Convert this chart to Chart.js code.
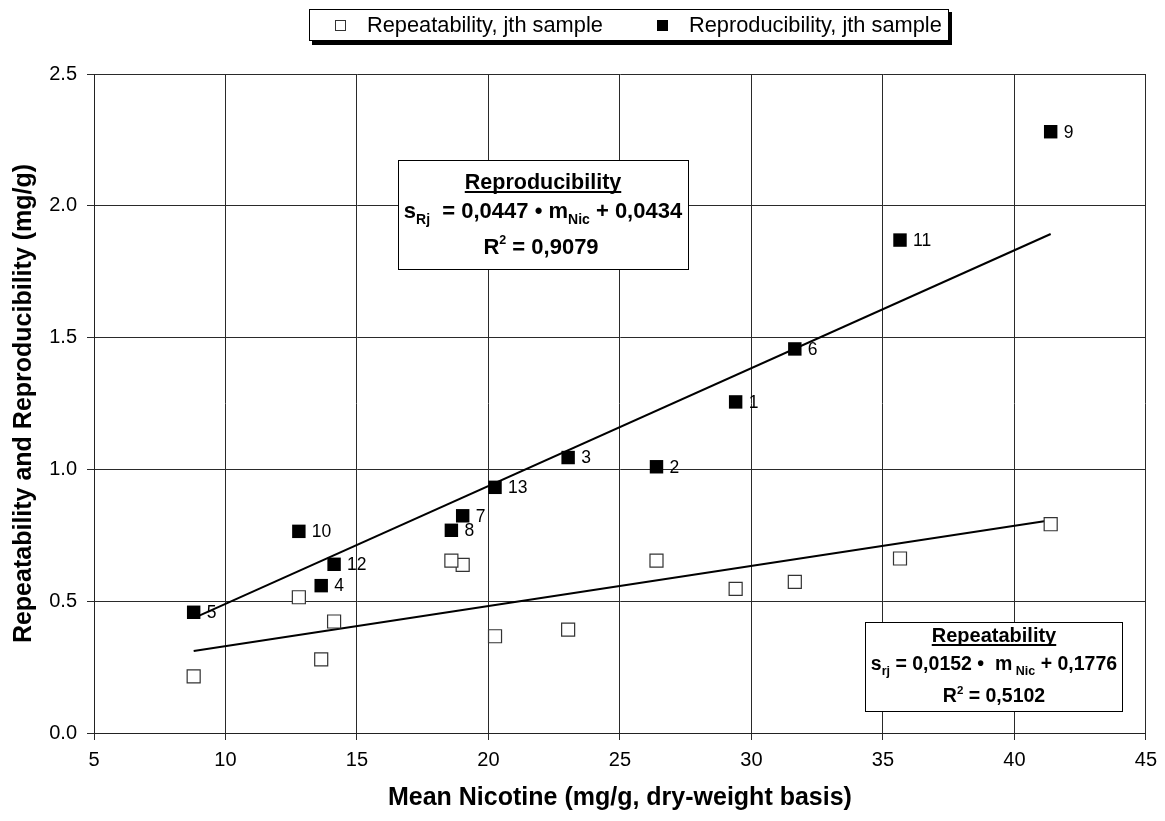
<!DOCTYPE html>
<html>
<head>
<meta charset="utf-8">
<script src="https://cdn.jsdelivr.net/npm/chart.js@4.4.0/dist/chart.umd.min.js"></script>
<style>
  html, body { margin: 0; padding: 0; background: #fff; }
  #wrap { width: 1165px; height: 821px; }
</style>
</head>
<body>
<div id="wrap"><canvas id="chart" width="1165" height="821"></canvas></div>
<script>
const FONT = "'Liberation Sans', Arial, sans-serif";

// samples, in order 1..13
const sampleIds = ['1', '2', '3', '4', '5', '6', '7', '8', '9', '10', '11', '12', '13'];
const meanNicotine = [29.40, 26.39, 23.03, 13.64, 8.79, 31.65, 19.02, 18.59, 41.38, 12.79, 35.65, 14.13, 20.25];
const repeatability = [0.547, 0.654, 0.392, 0.279, 0.215, 0.573, 0.638, 0.654, 0.792, 0.515, 0.662, 0.423, 0.367];
const reproducibility = [1.256, 1.010, 1.045, 0.559, 0.458, 1.457, 0.824, 0.769, 2.281, 0.765, 1.870, 0.640, 0.932];

// fitted lines, end points
const fitX = [8.79, 41.38];
const reproFitY = [0.436, 1.893];
const repeatFitY = [0.311, 0.807];

const xTickValues = [5, 10, 15, 20, 25, 30, 35, 40, 45];
const yTickValues = [0, 0.5, 1.0, 1.5, 2.0, 2.5];
const yTickLabels = ['0.0', '0.5', '1.0', '1.5', '2.0', '2.5'];

const legendLabels = ['Repeatability, jth sample', 'Reproducibility, jth sample'];

function toPoints(xs, ys) {
    return xs.map((x, i) => ({ x: x, y: ys[i] }));
}

// draws text made of pieces (sub/superscripts), centred on cx
function richLine(ctx, parts, cx, y) {
    let total = 0;
    parts.forEach(p => {
        ctx.font = 'bold ' + p.size + 'px ' + FONT;
        p.w = ctx.measureText(p.t).width;
        total += p.w;
    });
    let x = cx - total / 2;
    const x0 = x;
    parts.forEach(p => {
        ctx.font = 'bold ' + p.size + 'px ' + FONT;
        ctx.fillText(p.t, x, y + (p.dy || 0));
        x += p.w;
    });
    return { x0: x0, w: total };
}

const pointLabels = {
    id: 'pointLabels',
    afterDatasetsDraw(chart) {
        const ctx = chart.ctx;
        const meta = chart.getDatasetMeta(1);
        ctx.save();
        ctx.fillStyle = '#000';
        ctx.font = '17.5px ' + FONT;
        ctx.textAlign = 'left';
        ctx.textBaseline = 'middle';
        meta.data.forEach((pt, i) => {
            ctx.fillText(sampleIds[i], pt.x + 13, pt.y + 1);
        });
        ctx.restore();
    }
};

const boxes = {
    id: 'boxes',
    afterDraw(chart) {
        const ctx = chart.ctx;
        ctx.save();
        ctx.textAlign = 'left';
        ctx.textBaseline = 'alphabetic';

        // reproducibility box
        ctx.fillStyle = '#fff';
        ctx.fillRect(398, 160, 290, 109);
        ctx.strokeStyle = '#000';
        ctx.lineWidth = 1;
        ctx.strokeRect(398.5, 160.5, 290, 109);
        ctx.fillStyle = '#000';
        let t = richLine(ctx, [{ t: 'Reproducibility', size: 21.5 }], 543, 189);
        ctx.fillRect(t.x0, 191, t.w, 2);
        richLine(ctx, [
            { t: 's', size: 22 },
            { t: 'Rj', size: 14 },
            { t: '  = 0,0447 \u2022 m', size: 22 },
            { t: 'Nic', size: 14 },
            { t: ' + 0,0434', size: 22 }
        ].map(p => (p.size === 14 ? Object.assign(p, { dy: 6 }) : p)), 543, 218);
        richLine(ctx, [
            { t: 'R', size: 22 },
            { t: '2', size: 12.5, dy: -10 },
            { t: ' = 0,9079', size: 22 }
        ], 541, 254);

        // repeatability box
        ctx.fillStyle = '#fff';
        ctx.fillRect(865, 622, 257, 89);
        ctx.strokeRect(865.5, 622.5, 257, 89);
        ctx.fillStyle = '#000';
        t = richLine(ctx, [{ t: 'Repeatability', size: 20 }], 994, 642);
        ctx.fillRect(t.x0, 644, t.w, 2);
        richLine(ctx, [
            { t: 's', size: 19.5 },
            { t: 'rj', size: 12.5, dy: 5 },
            { t: ' = 0,0152 \u2022  m', size: 19.5 },
            { t: ' Nic', size: 12.5, dy: 5 },
            { t: ' + 0,1776', size: 19.5 }
        ], 994, 670);
        richLine(ctx, [
            { t: 'R', size: 19.5 },
            { t: '2', size: 11.5, dy: -8 },
            { t: ' = 0,5102', size: 19.5 }
        ], 994, 702);

        // legend frame with shadow
        ctx.fillStyle = '#000';
        ctx.fillRect(312, 12, 640, 33);
        ctx.fillStyle = '#fff';
        ctx.fillRect(309, 9, 640, 32);
        ctx.strokeStyle = '#000';
        ctx.lineWidth = 1;
        ctx.strokeRect(309.5, 9.5, 639, 31);
        // legend markers
        ctx.strokeStyle = '#333';
        ctx.strokeRect(335.5, 20.5, 10, 10);
        ctx.fillStyle = '#000';
        ctx.fillRect(657, 20, 11, 11);
        ctx.font = '21.8px ' + FONT;
        ctx.textBaseline = 'middle';
        ctx.fillText(legendLabels[0], 367, 26);
        ctx.fillText(legendLabels[1], 689, 26);
        ctx.restore();
    }
};

new Chart(document.getElementById('chart'), {
    type: 'scatter',
    data: {
        datasets: [
            {
                label: legendLabels[0],
                data: toPoints(meanNicotine, repeatability),
                pointStyle: 'rect',
                pointRadius: 9.2,
                pointBackgroundColor: '#fff',
                pointBorderColor: '#333',
                pointBorderWidth: 1.2,
                order: 1
            },
            {
                label: legendLabels[1],
                data: toPoints(meanNicotine, reproducibility),
                pointStyle: 'rect',
                pointRadius: 9.5,
                pointBackgroundColor: '#000',
                pointBorderColor: '#000',
                pointBorderWidth: 0,
                order: 0
            },
            {
                type: 'line',
                label: 'repro fit',
                data: toPoints(fitX, reproFitY),
                borderColor: '#000',
                borderWidth: 2,
                pointRadius: 0,
                fill: false,
                order: 3
            },
            {
                type: 'line',
                label: 'repeat fit',
                data: toPoints(fitX, repeatFitY),
                borderColor: '#000',
                borderWidth: 2,
                pointRadius: 0,
                fill: false,
                order: 3
            }
        ]
    },
    options: {
        responsive: false,
        animation: false,
        devicePixelRatio: 1,
        layout: { padding: { top: 74, right: 19, left: 0, bottom: 0 } },
        plugins: {
            legend: { display: false },
            tooltip: { enabled: false }
        },
        scales: {
            x: {
                type: 'linear',
                min: 5,
                max: 45,
                afterBuildTicks: scale => { scale.ticks = xTickValues.map(v => ({ value: v })); },
                afterFit: scale => { scale.height = 88; },
                grid: { color: '#2a2a2a', lineWidth: 1, tickLength: 7 },
                border: { color: '#222', width: 1 },
                ticks: {
                    color: '#000',
                    font: { family: FONT, size: 20 },
                    padding: 8,
                    maxRotation: 0,
                    callback: v => String(v)
                },
                title: {
                    display: true,
                    text: 'Mean Nicotine (mg/g, dry-weight basis)',
                    color: '#000',
                    font: { family: FONT, size: 25, weight: 'bold' },
                    padding: { top: 0, bottom: 8 }
                }
            },
            y: {
                type: 'linear',
                min: 0,
                max: 2.5,
                afterBuildTicks: scale => { scale.ticks = yTickValues.map(v => ({ value: v })); },
                afterFit: scale => { scale.width = 94; },
                grid: { color: '#2a2a2a', lineWidth: 1, tickLength: 7 },
                border: { color: '#222', width: 1 },
                ticks: {
                    color: '#000',
                    font: { family: FONT, size: 20 },
                    padding: 10,
                    callback: (v, i) => yTickLabels[i]
                },
                title: {
                    display: true,
                    text: 'Repeatability and Reproducibility (mg/g)',
                    color: '#000',
                    font: { family: FONT, size: 25, weight: 'bold' },
                    padding: { top: 9, bottom: 0 }
                }
            }
        }
    },
    plugins: [pointLabels, boxes]
});
</script>
</body>
</html>
